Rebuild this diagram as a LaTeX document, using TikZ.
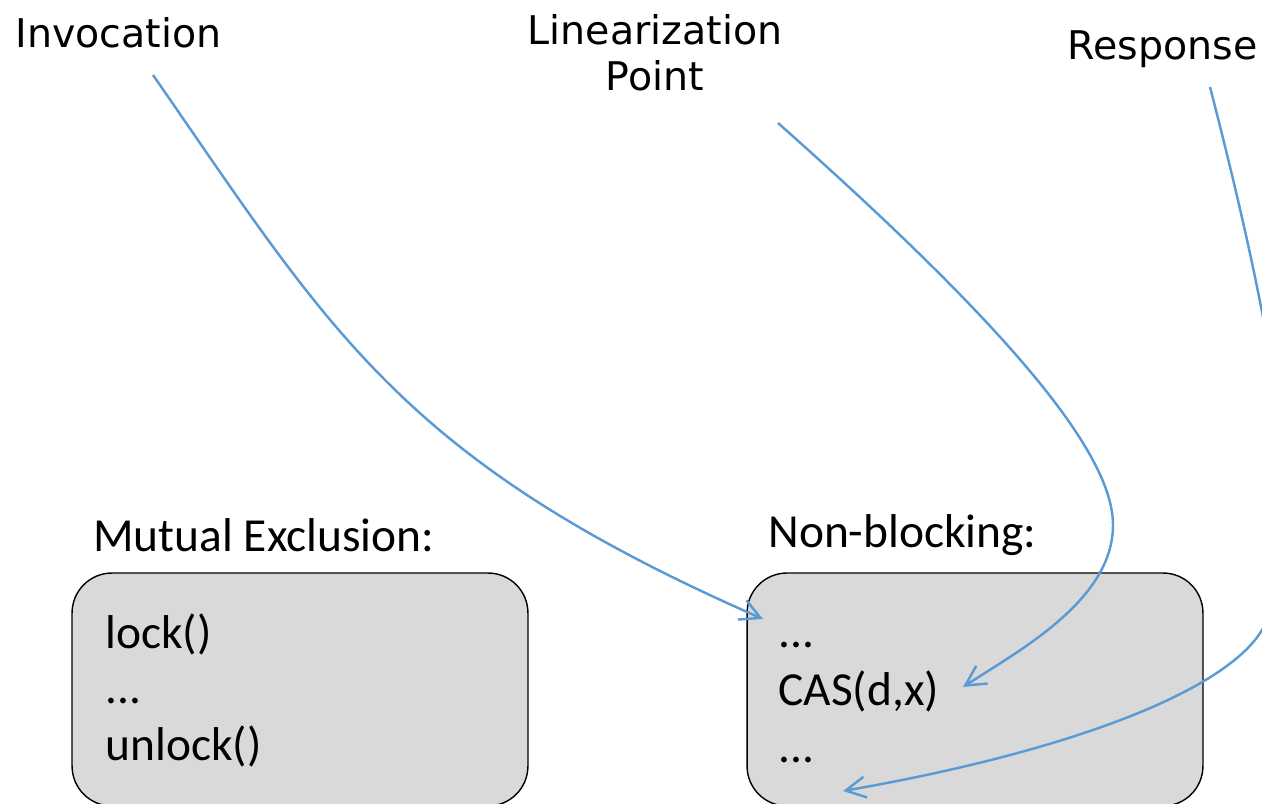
\documentclass[tikz,border=0pt]{standalone}
\usepackage{fontspec}
\setmainfont{Carlito}
\newfontfamily\handfont{DejaVu Sans}
\usetikzlibrary{positioning}
\usetikzlibrary{arrows.meta}

\definecolor{arrowblue}{HTML}{5B9BD5}
\definecolor{boxgray}{HTML}{D9D9D9}

\tikzset{
	code_box/.style={draw=black, fill=boxgray, line width=0.8pt, rounded corners=0.8cm, minimum width=9.12cm, minimum height=4.66cm},
	code_line/.style={font=\fontsize{27}{32}\selectfont, anchor=base west, inner sep=0},
	hand_label/.style={font=\handfont\fontsize{22.5}{26}\selectfont, inner sep=0},
	marker/.style={draw=arrowblue, line width=1.4pt, -{Straight Barb[length=0.4cm, width=0.42cm]}},
}

\begin{document}
\begin{tikzpicture}[x=0.02cm, y=-0.02cm]
	\useasboundingbox (0,0) rectangle (1262,804);
	\clip (0,0) rectangle (1262,804);

	\node (mutex) [code_box] at (300,689.5) {};
	\node (nonblock) [code_box] at (975,689.5) {};

	\node (mutex_title) [code_line] at (93,551) {Mutual Exclusion:};
	\node (nonblock_title) [code_line] at (768,547) {Non-blocking:};

	\node (lock) [code_line] at (105,648) {lock()};
	\node (mutex_dots) [code_line] at (105,703) {...};
	\node (unlock) [code_line] at (105,760) {unlock()};

	\node (dots_1) [code_line] at (778,647) {...};
	\node (cas) [code_line] at (778,705) {CAS(d,x)};
	\node (dots_2) [code_line] at (778,762) {...};

	\node (invocation) [hand_label, anchor=base west] at (15,48) {Invocation};
	\node (linpoint) [hand_label, anchor=north, align=center] at (655,14) {Linearization\\Point};
	\node (response) [hand_label, anchor=base east] at (1258,60) {Response};

	\coordinate (inv_start) at (153,75);
	\coordinate (inv_end) at (763,619);
	\coordinate (lin_start) at (778,123);
	\coordinate (lin_end) at (963,687);
	\coordinate (resp_start) at (1210,87);
	\coordinate (resp_end) at (843,791);

	\path[marker] (inv_start) .. controls (330,330) and (400,460) .. (inv_end);
	\path[marker] (lin_start) .. controls (1000,320) and (1113,450) .. (1113,525)
		.. controls (1113,600) and (1020,650) .. (lin_end);
	\path[marker] (resp_start) .. controls (1270,320) and (1320,560) .. (1255,640)
		.. controls (1206,700) and (1050,755) .. (resp_end);

\end{tikzpicture}
\end{document}
